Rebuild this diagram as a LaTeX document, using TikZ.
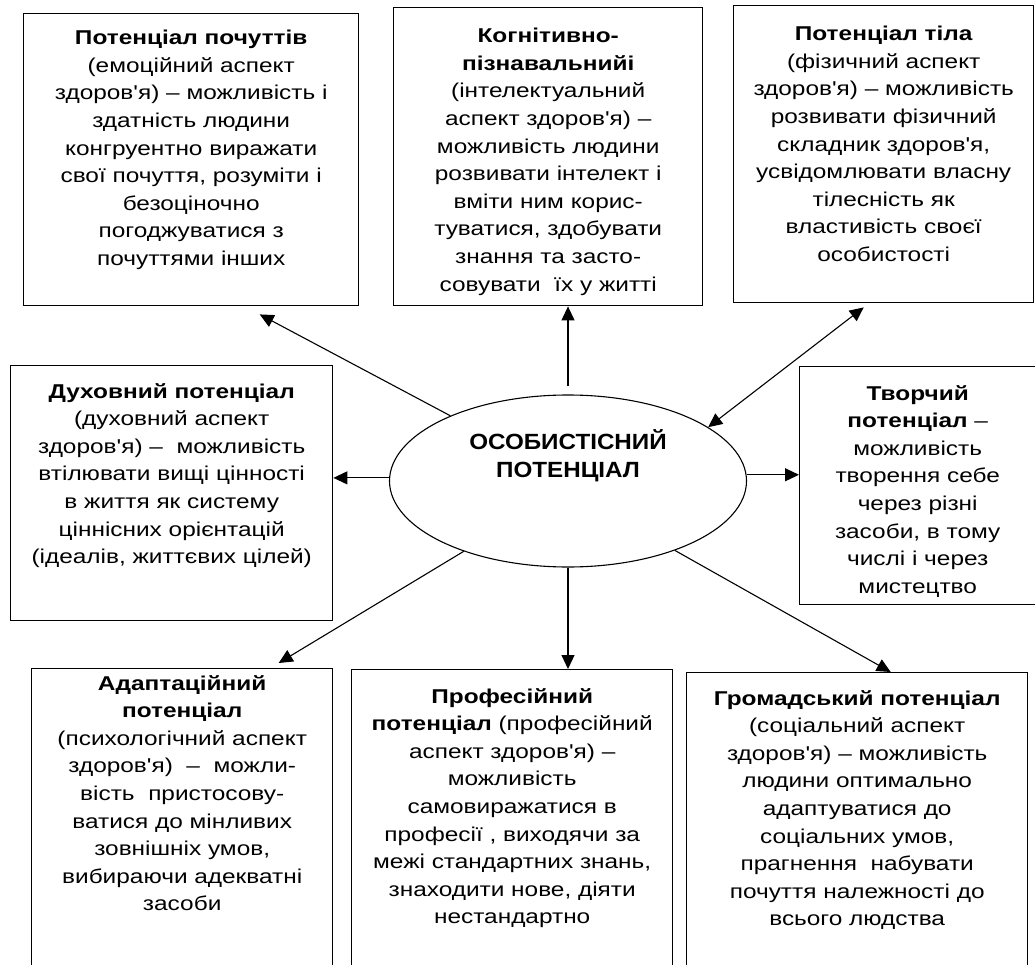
\documentclass[tikz,border=0pt]{standalone}
\usepackage{fontspec}
\setmainfont{Liberation Sans}[Ligatures=TeXOff,FakeStretch=1.22]
\newfontfamily\corefont{Liberation Sans}[Ligatures=TeXOff,FakeStretch=1.1]
\usetikzlibrary{arrows.meta,positioning,shapes.geometric,calc}

\begin{document}
\begin{tikzpicture}[x=1pt,y=-1pt,
  box/.style={draw,line width=1.4pt,anchor=north west,inner sep=0pt},
  txt/.style={align=center,inner sep=0pt,anchor=north,
              font=\fontsize{20}{27.6}\selectfont},
  core/.style={draw,ellipse,line width=1.1pt,minimum width=357pt,
              minimum height=172pt,inner sep=0pt},
  coretxt/.style={align=center,inner sep=0pt,
              font=\corefont\fontsize{22}{28}\selectfont\bfseries},
  arr/.style={-{Triangle[length=14pt,width=13pt]},line width=1.1pt},
  darr/.style={{Triangle[length=14pt,width=13pt]}-{Triangle[length=14pt,width=13pt]},
              line width=1.1pt}]

  \useasboundingbox (0,0) rectangle (1035,965);
  \clip (0,0) rectangle (1035,965);

  % upper row
  \node[box,minimum width=335pt,minimum height=292pt] (feel) at (23,13) {};
  \node[txt,below=17pt of feel.north] (feel-txt)
    {\textbf{Потенціал почуттів}\\(емоційний аспект\\здоров'я) – можливість і\\
     здатність людини\\конгруентно виражати\\свої почуття, розуміти і\\
     безоціночно\\погоджуватися з\\почуттями інших};

  \node[box,minimum width=309pt,minimum height=298pt] (cogn) at (393,7) {};
  \node[txt,below=21pt of cogn.north] (cogn-txt)
    {\textbf{Когнітивно-}\\\textbf{пізнавальнийі}\\(інтелектуальний\\
     аспект здоров'я) –\\можливість людини\\розвивати інтелект і\\
     вміти ним корис-\\туватися, здобувати\\знання та засто-\\
     совувати \ їх у житті};

  \node[box,minimum width=300pt,minimum height=297pt] (body) at (733,5) {};
  \node[txt,below=21pt of body.north] (body-txt)
    {\textbf{Потенціал тіла}\\(фізичний аспект\\здоров'я) – можливість\\
     розвивати фізичний\\складник здоров'я,\\усвідомлювати власну\\
     тілесність як\\властивість своєї\\особистості};

  % middle row
  \node[box,minimum width=322pt,minimum height=255pt] (spirit) at (10,365) {};
  \node[txt,below=18pt of spirit.north] (spirit-txt)
    {\textbf{Духовний потенціал}\\(духовний аспект\\здоров'я) – \ можливість\\
     втілювати вищі цінності\\в життя як систему\\ціннісних орієнтацій\\
     (ідеалів, життєвих цілей)};

  \node[core] (pers) at (568,481) {};
  \node[coretxt] (pers-txt) at ([yshift=25pt]pers.center)
    {ОСОБИСТІСНИЙ\\ПОТЕНЦІАЛ};

  \node[box,minimum width=250pt,minimum height=238pt] (creat) at (799,366) {};
  \node[txt,below=19pt of creat.north,xshift=-7pt] (creat-txt)
    {\textbf{Творчий}\\\textbf{потенціал} –\\можливість\\творення себе\\
     через різні\\засоби, в тому\\числі і через\\мистецтво};

  % lower row
  \node[box,minimum width=301pt,minimum height=320pt] (adapt) at (31,668) {};
  \node[txt,below=7pt of adapt.north] (adapt-txt)
    {\textbf{Адаптаційний}\\\textbf{потенціал}\\(психологічний аспект\\
     здоров'я) \ – \ можли-\\вість \ пристосову-\\ватися до мінливих\\
     зовнішніх умов,\\вибираючи адекватні\\засоби};

  \node[box,minimum width=321pt,minimum height=320pt] (prof) at (351,669) {};
  \node[txt,below=19pt of prof.north] (prof-txt)
    {\textbf{Професійний}\\\textbf{потенціал} (професійний\\аспект здоров'я) –\\
     можливість\\самовиражатися в\\професії , виходячи за\\
     межі стандартних знань,\\знаходити нове, діяти\\нестандартно};

  \node[box,minimum width=341pt,minimum height=320pt] (social) at (686,672) {};
  \node[txt,below=18pt of social.north] (social-txt)
    {\textbf{Громадський потенціал}\\(соціальний аспект\\здоров'я) – можливість\\
     людини оптимально\\адаптуватися до\\соціальних умов,\\
     прагнення \ набувати\\почуття належності до\\всього людства};

  % arrows
  \draw[arr] (pers.151) -- ([xshift=68.5pt,yshift=-8pt]feel.south);
  \draw[arr,shorten <=8pt] (pers.north) -- (pers.north |- cogn.south);
  \draw[darr] (pers.21) -- ([xshift=-20pt,yshift=-4pt]body.south);
  \draw[arr] (pers.179) -- (pers.179 -| spirit.east);
  \draw[arr] (pers.2) -- (pers.2 -| creat.west);
  \draw[arr] (pers.214) -- ([xshift=96.5pt,yshift=5pt]adapt.north);
  \draw[arr] (pers.south) -- (pers.south |- prof.north);
  \draw[arr] (pers.327) -- ([xshift=33.5pt]social.north);
\end{tikzpicture}
\end{document}
